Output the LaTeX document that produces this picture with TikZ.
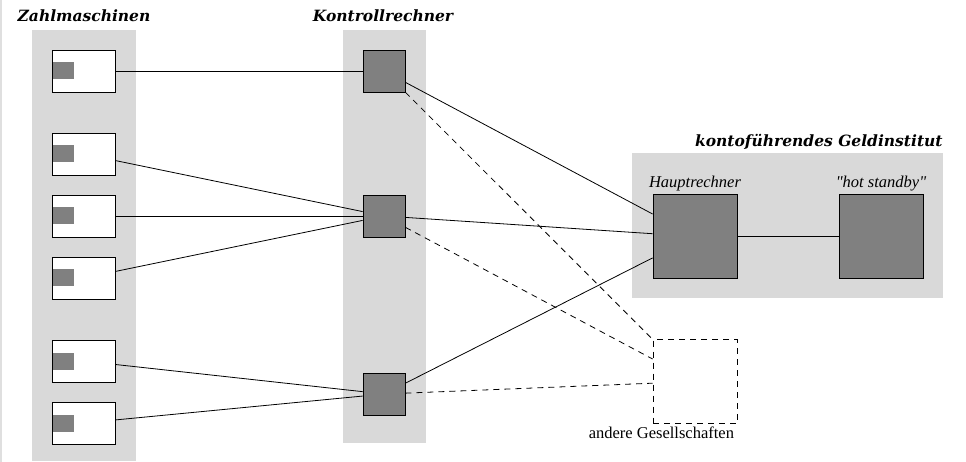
\documentclass[tikz,border=0pt]{standalone}
\usepackage{fontspec}
\usepackage{tikz}
\newfontfamily\labelfont{Liberation Serif}
\newfontfamily\headfont{DejaVu Serif}

\begin{document}
\begin{tikzpicture}[x=1pt,y=-1pt,line width=0.8pt,
    column/.style={fill=gray!30},
    title/.style={font=\fontsize{15.5}{19}\selectfont\headfont\bfseries\itshape},
    caption/.style={font=\fontsize{16.5}{20}\selectfont\labelfont},
    terminal/.style={draw,fill=white,minimum width=63pt,minimum height=42pt,inner sep=0pt},
    slot/.style={fill=gray,minimum width=21pt,minimum height=17pt,inner sep=0pt,anchor=west},
    computer/.style={draw,fill=gray,minimum size=#1,inner sep=0pt},
    computer/.default=42pt,
    other/.style={dash pattern=on 6pt off 5pt}]

        \useasboundingbox (0,0) rectangle (966,462);
        \draw[gray!25,line width=2pt] (1,0) -- (1,462);

        % grey areas
        \fill[column] (32,30) rectangle (136,461);
        \fill[column] (343,30) rectangle (426,443);
        \fill[column] (632,153) rectangle (943,298);

        \node[title,anchor=base] (zm) at (84,22) {Zahlmaschinen};
        \node[title,anchor=base] (kr) at (383,22) {Kontrollrechner};
        \node[title,anchor=base east,inner sep=0pt] (gi) at (943,147) {kontoführendes Geldinstitut};

        % Zahlmaschinen
        \foreach \i/\y in {1/71,2/154,3/216,4/278,5/361,6/423} {
            \node[terminal] (t\i) at (83.5,\y) {};
            \node[slot] (s\i) at ([xshift=0.5pt]t\i.west) {};
        }

        % Kontrollrechner
        \foreach \i/\y in {1/71,2/216,3/394} {
            \node[computer] (c\i) at (384,\y) {};
        }

        \node[computer=84pt] (haupt) at (695,236.5) {};
        \node[computer=84pt] (standby) at (881,236.5) {};
        \node[draw,other,minimum size=84pt,inner sep=0pt] (andere) at (695,381.5) {};

        \node[caption,above,inner sep=3pt] (hauptname) at (haupt.north) {\itshape Hauptrechner};
        \node[caption,above,inner sep=3pt] (standbyname) at (standby.north) {\itshape "hot standby"};
        \node[caption,anchor=north east,inner sep=3pt] (anderename) at (andere.south east) {andere Gesellschaften};

        % Leitungen
        \draw (t1) -- (c1);
        \foreach \i in {2,3,4} \draw (t\i) -- (c2);
        \foreach \i in {5,6} \draw (t\i) -- (c3);
        \foreach \i in {1,2,3} {
            \draw (c\i) -- (haupt);
            \draw[other] (c\i) -- (andere);
        }
        \draw (haupt) -- (standby);

\end{tikzpicture}
\end{document}
